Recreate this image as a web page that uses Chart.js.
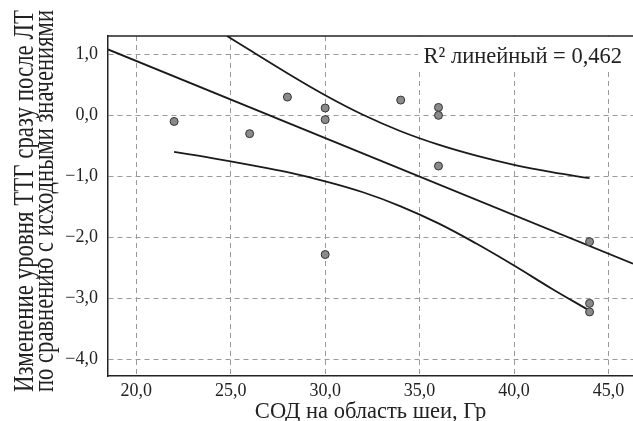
<!DOCTYPE html>
<html><head><meta charset="utf-8">
<script src="https://cdn.jsdelivr.net/npm/chart.js@4.4.0/dist/chart.umd.min.js"></script>
<style>html,body{margin:0;padding:0;background:#fff;}#wrap{width:633px;height:421px;}</style>
</head><body><div id="wrap"><canvas id="c" width="633" height="421"></canvas></div>
<script>
// ---- data ----
const doseX = [22, 26, 28, 30, 30, 30, 34, 36, 36, 36, 44, 44, 44];
const tshChange = [-0.10, -0.30, 0.30, 0.12, -0.07, -2.28, 0.25, 0.13, 0.00, -0.83, -2.07, -3.08, -3.22];
const fitX = [18.5, 46.3];
const fitY = [1.08, -2.43];
const upperX = [24.8, 26, 28, 30, 32, 34, 36, 38, 40, 42, 44];
const upperY = [1.30, 1.07, 0.69, 0.33, 0.01, -0.26, -0.48, -0.66, -0.81, -0.93, -1.03];
const lowerX = [22, 24, 26, 28, 30, 32, 34, 36, 38, 40, 42, 44];
const lowerY = [-0.60, -0.70, -0.81, -0.93, -1.08, -1.26, -1.49, -1.77, -2.10, -2.46, -2.84, -3.20];
const xTickValues = [20, 25, 30, 35, 40, 45];
const xTickLabels = ['20,0', '25,0', '30,0', '35,0', '40,0', '45,0'];
const yTickValues = [1, 0, -1, -2, -3, -4];
const yTickLabels = ['1,0', '0,0', '−1,0', '−2,0', '−3,0', '−4,0'];
const xRange = [18.5, 46.3];
const yRange = [-4.27, 1.3];
const xTitle = 'СОД на область шеи, Гр';
const yTitleLines = ['Изменение уровня ТТГ сразу после ЛТ', 'по сравнению с исходными значениями'];
const r2Text = 'R² линейный = 0,462';

const pts = (xs, ys) => xs.map((x, i) => ({x: x, y: ys[i]}));
const SERIF = '"Liberation Serif", "Times New Roman", serif';
Chart.defaults.font.family = SERIF;
Chart.defaults.color = '#222';

const decor = {
  id: 'decor',
  beforeDatasetsDraw(chart) {
    const {ctx, chartArea: a} = chart;
    ctx.save();
    ctx.fillStyle = '#fff';
    ctx.fillRect(a.right - 215, a.top + 1, 215, 34);
    ctx.fillStyle = '#222';
    ctx.font = '22.5px ' + SERIF;
    ctx.textAlign = 'right';
    ctx.textBaseline = 'alphabetic';
    ctx.fillText(r2Text, a.right - 11, a.top + 27);
    ctx.strokeStyle = '#222';
    ctx.lineWidth = 1.5;
    ctx.beginPath();
    ctx.moveTo(a.left, a.top);
    ctx.lineTo(a.right, a.top);
    ctx.stroke();
    ctx.restore();
  },
  afterDraw(chart) {
    const {ctx, chartArea: a} = chart;
    ctx.save();
    ctx.fillStyle = '#222';
    ctx.font = '29px ' + SERIF;
    ctx.textAlign = 'center';
    ctx.textBaseline = 'alphabetic';
    ctx.translate(33, (a.top + a.bottom) / 2 - 5);
    ctx.rotate(-Math.PI / 2);
    ctx.fillText(yTitleLines[0], 0, 0, 382);
    ctx.fillText(yTitleLines[1], 0, 19.5, 382);
    ctx.restore();
  }
};

const lineStyle = {showLine: true, pointRadius: 0, borderColor: '#1a1a1a', borderWidth: 1.8, fill: false};
const noPad = s => { s.paddingLeft = 0; s.paddingRight = 0; s.paddingTop = 0; s.paddingBottom = 0; };

new Chart(document.getElementById('c'), {
  type: 'scatter',
  data: {
    datasets: [
      {data: pts(doseX, tshChange), pointRadius: 4, pointHoverRadius: 4, backgroundColor: '#8a8a8a', borderColor: '#333', borderWidth: 1},
      Object.assign({data: pts(fitX, fitY)}, lineStyle),
      Object.assign({data: pts(upperX, upperY), tension: 0.4}, lineStyle),
      Object.assign({data: pts(lowerX, lowerY), tension: 0.4}, lineStyle)
    ]
  },
  options: {
    responsive: false,
    animation: false,
    layout: {autoPadding: false, padding: {top: 36, right: 0, bottom: 0, left: 0}},
    plugins: {legend: {display: false}, tooltip: {enabled: false}},
    scales: {
      x: {
        type: 'linear', min: xRange[0], max: xRange[1],
        afterBuildTicks: s => { s.ticks = xTickValues.map(v => ({value: v})); },
        afterFit: s => { s.height = 45; noPad(s); },
        ticks: {padding: 4, font: {size: 18}, color: '#222', maxRotation: 0,
          callback: v => { const i = xTickValues.indexOf(v); return i >= 0 ? xTickLabels[i] : ''; }},
        grid: {color: '#9a9a9a', lineWidth: 1, drawTicks: false},
        border: {display: true, color: '#222', width: 1.5, dash: [5, 4]},
        title: {display: true, text: xTitle, font: {size: 22.5, lineHeight: 1}, color: '#222', padding: {top: 0, bottom: -2}}
      },
      y: {
        type: 'linear', min: yRange[0], max: yRange[1],
        afterBuildTicks: s => { s.ticks = yTickValues.map(v => ({value: v})); },
        afterFit: s => { s.width = 108; noPad(s); },
        ticks: {padding: 10, font: {size: 18}, color: '#222',
          callback: v => { const i = yTickValues.indexOf(v); return i >= 0 ? yTickLabels[i] : ''; }},
        grid: {color: '#9a9a9a', lineWidth: 1, drawTicks: false},
        border: {display: true, color: '#222', width: 1.5, dash: [5, 4]},
        title: {display: false}
      }
    }
  },
  plugins: [decor]
});
</script>
</body></html>
